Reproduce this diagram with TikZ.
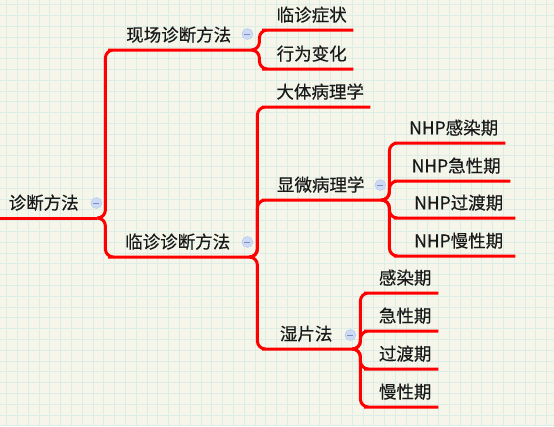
\documentclass[tikz,border=0pt]{standalone}
\usepackage{fontspec}
\setmainfont[FakeBold=0.4]{Noto Sans CJK SC}
\definecolor{paper}{RGB}{245,246,233}
\definecolor{gridline}{RGB}{220,236,230}
\definecolor{branch}{RGB}{255,0,0}
\definecolor{foldfill}{RGB}{204,218,245}
\definecolor{folddraw}{RGB}{178,196,236}
\definecolor{foldminus}{RGB}{125,142,190}
\definecolor{ink}{RGB}{25,25,25}
\tikzset{
  topic/.style={anchor=south west, inner xsep=0pt, inner ysep=6.5pt, text height=13pt,
    text depth=2pt, minimum width=#1, font=\fontsize{17.5}{20}\selectfont, text=ink},
  folded/.style={execute at end node={\hspace*{10pt}}},
  fold/.style={circle, draw=folddraw, fill=foldfill, inner sep=0pt, minimum size=11pt,
    path picture={\draw[foldminus, line width=0.9pt]
      ([xshift=-3pt]path picture bounding box.center) -- ([xshift=3pt]path picture bounding box.center);}},
  branch/.style={draw=branch, line width=3pt, rounded corners=8pt}
}
\begin{document}
\begin{tikzpicture}[x=1pt, y=-1pt]
  \useasboundingbox (0,0) rectangle (554,426);
  \fill[paper] (0,0) rectangle (554,426);
  \foreach \gx in {6.5,17.3,...,554} \draw[gridline, line width=0.7pt] (\gx,0) -- (\gx,426);
  \foreach \gy in {4.5,15.3,...,426} \draw[gridline, line width=0.7pt] (0,\gy) -- (554,\gy);

  % topics
  \node[topic=97pt, folded] (root) at (0,218) {诊断方法};
  \node[topic=135pt, folded] (xianchang) at (116,50) {现场诊断方法};
  \node[topic=133pt, folded] (linzhen) at (116,257) {临诊诊断方法};
  \node[topic=83pt] (symptom) at (270,30) {临诊症状};
  \node[topic=83pt] (behavior) at (270,69) {行为变化};
  \node[topic=100pt] (gross) at (270,107) {大体病理学};
  \node[topic=111pt, folded] (micro) at (270,200) {显微病理学};
  \node[topic=82pt, folded] (wetmount) at (270,349) {湿片法};
  \node[topic=103pt] (nhpinfect) at (402,143) {NHP感染期};
  \node[topic=108pt] (nhpacute) at (402,181) {NHP急性期};
  \node[topic=113pt] (nhptrans) at (402,218) {NHP过渡期};
  \node[topic=113pt] (nhpchronic) at (402,256) {NHP慢性期};
  \node[topic=66pt] (infect) at (372,293) {感染期};
  \node[topic=66pt] (acute) at (372,331) {急性期};
  \node[topic=66pt] (trans) at (372,369) {过渡期};
  \node[topic=66pt] (chronic) at (372,407) {慢性期};

  % fold buttons
  \node[fold] (root-fold) at ([shift={(-1,-15)}]root.south east) {};
  \node[fold] (xianchang-fold) at ([shift={(-4,-16)}]xianchang.south east) {};
  \node[fold] (linzhen-fold) at ([shift={(-2,-15)}]linzhen.south east) {};
  \node[fold] (micro-fold) at ([shift={(-1,-15)}]micro.south east) {};
  \node[fold] (wetmount-fold) at ([shift={(-2,-14)}]wetmount.south east) {};

  % branches
  \draw[branch] (root.south west) -- (root.south east);
  \draw[branch] (root.south east) -- ++(8,0) |- (xianchang.south west) -- (xianchang.south east);
  \draw[branch] (root.south east) -- ++(8,0) |- (linzhen.south west) -- (linzhen.south east);
  \draw[branch] (xianchang.south east) -- ++(8,0) |- (symptom.south west) -- (symptom.south east);
  \draw[branch] (xianchang.south east) -- ++(8,0) |- (behavior.south west) -- (behavior.south east);
  \draw[branch] (linzhen.south east) -- ++(8,0) |- (gross.south west) -- (gross.south east);
  \draw[branch] (linzhen.south east) -- ++(8,0) |- (micro.south west) -- (micro.south east);
  \draw[branch] (linzhen.south east) -- ++(8,0) |- (wetmount.south west) -- (wetmount.south east);
  \draw[branch] (micro.south east) -- ++(8,0) |- (nhpinfect.south west) -- (nhpinfect.south east);
  \draw[branch] (micro.south east) -- ++(8,0) |- (nhpacute.south west) -- (nhpacute.south east);
  \draw[branch] (micro.south east) -- ++(8,0) |- (nhptrans.south west) -- (nhptrans.south east);
  \draw[branch] (micro.south east) -- ++(8,0) |- (nhpchronic.south west) -- (nhpchronic.south east);
  \draw[branch] (wetmount.south east) -- ++(8,0) |- (infect.south west) -- (infect.south east);
  \draw[branch] (wetmount.south east) -- ++(8,0) |- (acute.south west) -- (acute.south east);
  \draw[branch] (wetmount.south east) -- ++(8,0) |- (trans.south west) -- (trans.south east);
  \draw[branch] (wetmount.south east) -- ++(8,0) |- (chronic.south west) -- (chronic.south east);
\end{tikzpicture}
\end{document}
